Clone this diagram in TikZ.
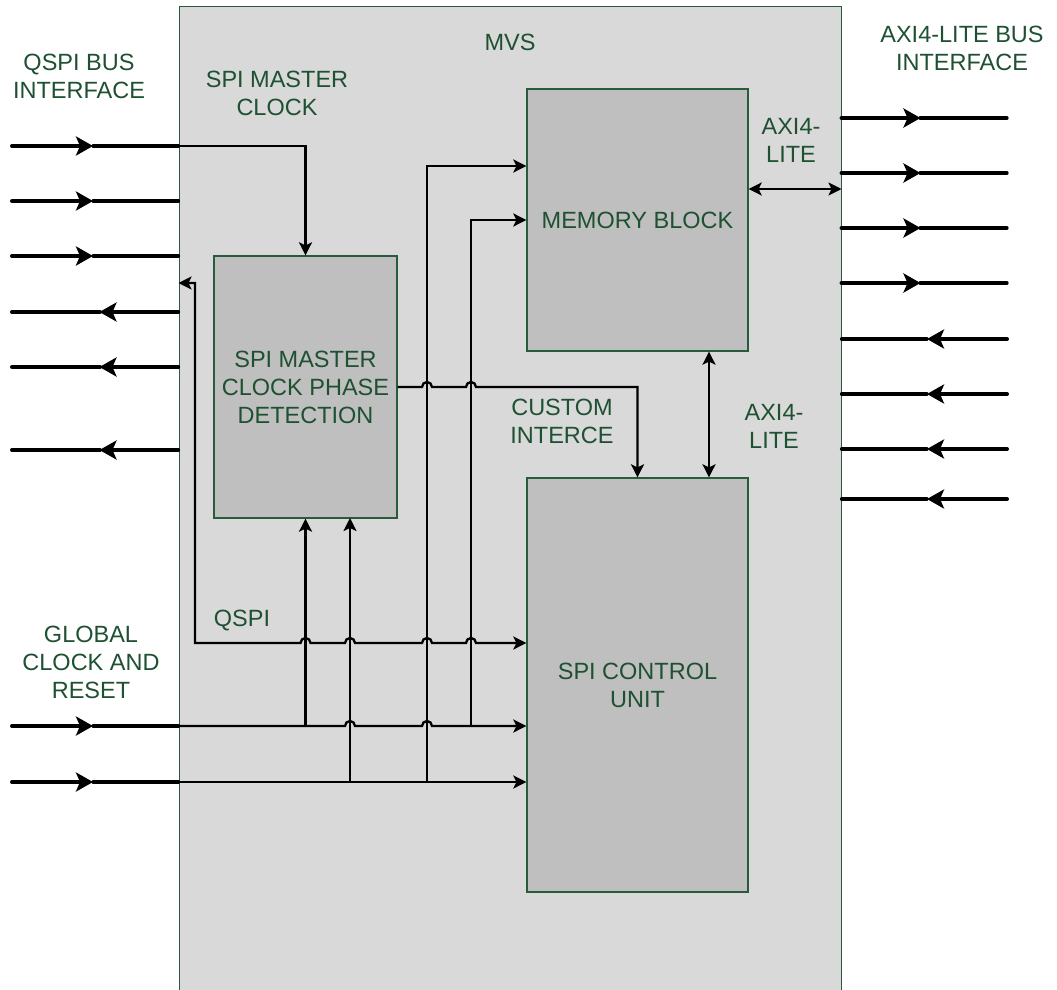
\documentclass[tikz,border=0pt]{standalone}
\usepackage{fontspec}
\setmainfont{Liberation Sans}
\usetikzlibrary{arrows.meta,positioning,calc}
\definecolor{txtgreen}{RGB}{30,80,50}
\definecolor{edgegreen}{RGB}{40,90,60}
\definecolor{mvsfill}{RGB}{217,217,217}
\definecolor{blkfill}{RGB}{191,191,191}

\begin{document}
\begin{tikzpicture}[x=1pt, y=-1pt,
  >={Stealth[length=13pt,width=13pt,inset=3pt]},
  lbl/.style={text=txtgreen, align=center, inner sep=0pt,
              font=\fontsize{23.5}{28}\selectfont},
  blk/.style={lbl, draw=edgegreen, fill=blkfill, line width=1.3pt},
  wire/.style={line width=2.3pt},
  pin/.style={line width=4pt, line cap=round},
  pinthin/.style={line width=3.2pt, line cap=round},
  pintip/.style={-{Stealth[length=17pt,width=19pt,inset=4pt]}},
  hop/.style={insert path={arc[start angle=180, end angle=0, radius=5pt]}}]
\clip (0,0) rectangle (1057,990);
\node[draw=edgegreen, fill=mvsfill, line width=1pt, inner sep=0pt,
      minimum width=662pt, minimum height=1000pt] (mvs) at (510,507) {};
\node[lbl] (mvslbl) at (510,42) {MVS};
\node[blk, minimum width=221pt, minimum height=262pt] (mem) at (637.5,220) {MEMORY BLOCK};
\node[blk, minimum width=221pt, minimum height=414pt] (ctl) at (637.5,685) {SPI CONTROL\\UNIT};
\node[blk, minimum width=183pt, minimum height=262pt] (phs) at (305.5,387) {SPI MASTER\\CLOCK PHASE\\DETECTION};

\node[lbl] (qbus) at (79,76) {QSPI BUS\\INTERFACE};
\node[lbl] (sclk) at (277,93) {SPI MASTER\\CLOCK};
\node[lbl] (axbus) at (962,48) {AXI4-LITE BUS\\INTERFACE};
\node[lbl] (axlbl) at (791,140) {AXI4-\\LITE};
\node[lbl] (axlbl2) at (774,426) {AXI4-\\LITE};
\node[lbl] (cust) at (562,421) {CUSTOM\\INTERCE};
\node[lbl] (qspi) at (242,621) {QSPI};
\node[lbl] (glob) at (91,662) {GLOBAL\\CLOCK AND\\RESET};

\foreach \y [count=\i] in {146,201,256} {
  \coordinate (qin\i) at (12,\y);
  \draw[pin, pintip] (qin\i) -- ++(81,0);
  \draw[pinthin] ($(qin\i)+(81,0)$) -- (qin\i -| mvs.west);
}
\foreach \y [count=\i] in {312,367,450} {
  \coordinate (qout\i) at (12,\y);
  \draw[pinthin, pintip] (qout\i -| mvs.west) -- ++(-79,0);
  \draw[pin] ($(qout\i)+(88,0)$) -- (qout\i);
}
\foreach \y/\n in {726/gA,782/gB} {
  \coordinate (\n) at (12,\y);
  \draw[pin, pintip] (\n) -- ++(81,0);
  \draw[pinthin] ($(\n)+(81,0)$) -- (\n -| mvs.west);
}
\foreach \y [count=\i] in {118,173,228,283} {
  \coordinate (axin\i) at (1007,\y);
  \draw[pin, pintip] (axin\i -| mvs.east) -- ++(79,0);
  \draw[pinthin] ($(axin\i)+(-87,0)$) -- (axin\i);
}
\foreach \y [count=\i] in {339,394,449,499} {
  \coordinate (axout\i) at (1007,\y);
  \draw[pin, pintip] (axout\i) -- ++(-80,0);
  \draw[pinthin] ($(axout\i)+(-80,0)$) -- (axout\i -| mvs.east);
}

\coordinate (qsT) at (195,283);
\coordinate (qsB) at (195,643);
\coordinate (xB) at (350,518);
\coordinate (xC) at (427,166);
\coordinate (xD) at (471,220);

\draw[wire,->] (qin1 -| mvs.west) -| (phs.north);
\draw[wire,<->] (qsT -| mvs.west) -- (qsT) -- (qsB)
  -- ($(qsB -| phs.south)+(-5,0)$) [hop] -- ($(qsB -| xB)+(-5,0)$) [hop]
  -- ($(qsB -| xC)+(-5,0)$) [hop] -- ($(qsB -| xD)+(-5,0)$) [hop]
  -- (qsB -| ctl.west);
\draw[wire,->] (phs.east) -- ($(phs.east -| xC)+(-5,0)$) [hop]
  -- ($(phs.east -| xD)+(-5,0)$) [hop] -| (ctl.north);
\draw[wire,->] (gA -| mvs.west) -- ($(gA -| xB)+(-5,0)$) [hop]
  -- ($(gA -| xC)+(-5,0)$) [hop] -- (gA -| ctl.west);
\draw[wire,->] (gB -| mvs.west) -- (gB -| ctl.west);

\draw[wire,->] (gA -| phs.south) -- (phs.south);
\draw[wire,->] (gB -| xB) -- (xB);
\draw[wire,->] (gB -| xC) -- (xC) -- (xC -| mem.west);
\draw[wire,->] (gA -| xD) -- (xD) -- (xD -| mem.west);

\draw[wire,<->] (mem.east |- 0,189) -- (mvs.east |- 0,189);
\draw[wire,<->] (709,0 |- mem.south) -- (709,0 |- ctl.north);
\end{tikzpicture}
\end{document}
